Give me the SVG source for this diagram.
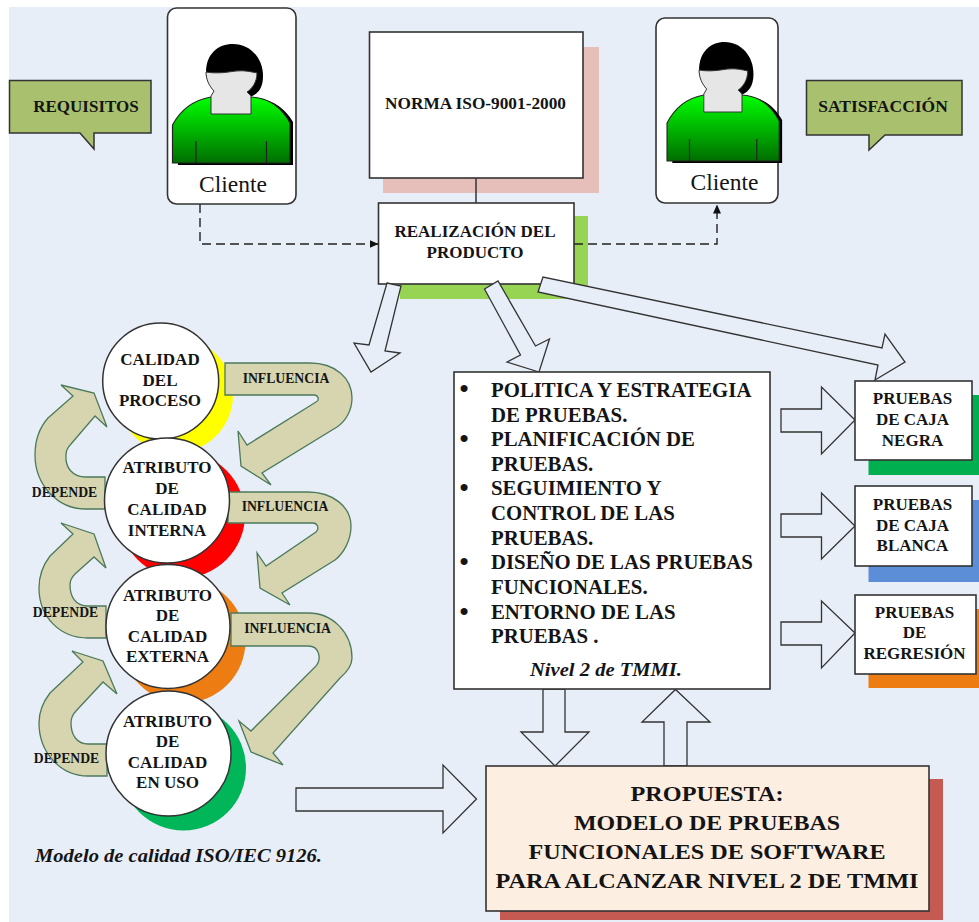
<svg xmlns="http://www.w3.org/2000/svg" xmlns:xlink="http://www.w3.org/1999/xlink" width="979" height="922" viewBox="0 0 979 922">
<style>
text{font-family:"Liberation Serif","Times New Roman",serif;font-weight:bold;fill:#141414;text-anchor:middle}
.box{fill:#fff;stroke:#333;stroke-width:1.6}
.ba{fill:#e8eef7;stroke:#333;stroke-width:1.3;stroke-linejoin:miter}
.ca{fill:#d6d5b0;stroke:#4c7a5c;stroke-width:1.3;stroke-linejoin:miter}
.call{fill:#a9c16f;stroke:#333;stroke-width:1.5}
.c{fill:#fff;stroke:#333;stroke-width:1.5}
.t17{font-size:17px}
.t14{font-size:13.7px}
.l{font-size:20.8px;text-anchor:start}
.p{font-size:22px}
.cl{font-size:23.5px;font-weight:normal}
.b{font-size:26px}
.dash{fill:none;stroke:#222;stroke-width:1.4;stroke-dasharray:9 5}
</style>
<defs>
<linearGradient id="g" x1="0" y1="0" x2="0" y2="1"><stop offset="0" stop-color="#00ff00"/><stop offset="1" stop-color="#006e00"/></linearGradient>
<marker id="ah" markerWidth="9" markerHeight="8" refX="8.5" refY="4" orient="auto" markerUnits="userSpaceOnUse"><path d="M0,0 L9,4 L0,8 Z" fill="#111"/></marker>
<g id="person">
<path d="M177.5,126 C187,109 198,101 216,98 H256 C275,100 286,110 293,122 V165 H178 V160 Z" fill="#000"/>
<path d="M206,72 C206,54 218,44 233,44 C250,44 263,58 263,76 C263,88 258,94 250,97 L214,90 C208,84 206,78 206,72 Z" fill="#000"/>
<path d="M172.500,125 C181,109 194,100 211,97 H251 C270,98 282,108 290,123 V163 H172.500 Z" fill="url(#g)" stroke="#222" stroke-width="1.200"/>
<path d="M206,72 C218,74 228,72 236,71 C245,70 252,72 257,73 C257,82 252,89 247,92 L251,96 V114 H211 V96 L214,91 C209,86 206,79 206,72 Z" fill="#e6e6e6" stroke="#333" stroke-width="1"/>
<path d="M196,141 V163 M266.500,141 V163" fill="none" stroke="#222" stroke-width="1.200"/>
</g>
</defs>
<rect width="979" height="922" fill="#fff"/>
<rect x="9" y="7" width="970" height="915" fill="#e8eef7"/>

<g id="requisitos"><path class="call" d="M9.500,80.500 H151 V133 H94 V149 L80,133 H9.500 Z"/><text class="t17" x="86" y="112">REQUISITOS</text></g>
<g id="cliente1"><rect class="box" x="167.500" y="8" width="128.500" height="196" rx="9"/><use xlink:href="#person" href="#person"/><text class="cl" x="233" y="192">Cliente</text></g>
<g id="norma"><rect x="383" y="47" width="216" height="146" fill="#e6bfba"/><rect class="box" x="369.500" y="32" width="213.500" height="146"/><text class="t17" x="475.500" y="109" style="font-size:17.300px">NORMA ISO-9001-2000</text></g>
<g id="cliente2"><rect class="box" x="656" y="18" width="122" height="185" rx="9"/><use xlink:href="#person" href="#person" transform="translate(502.300,-2) scale(.955,1) "/><text class="cl" x="724.500" y="190">Cliente</text></g>
<g id="satisfaccion"><path class="call" d="M806.500,80.500 H962 V135 H885 L869,150 V135 H806.500 Z"/><text class="t17" x="883" y="112" style="font-size:17.500px">SATISFACCIÓN</text></g>
<g id="realizacion"><rect x="400" y="216" width="188" height="83" fill="#98d454"/><rect class="box" x="378.500" y="203" width="195.500" height="81"/><text class="t17" x="475" y="237">REALIZACIÓN DEL</text><text class="t17" x="475" y="258">PRODUCTO</text></g>

<g id="connectors">
<path d="M476,178 V203" fill="none" stroke="#333" stroke-width="1.500"/>
<path class="dash" d="M200,204 V244 H378" marker-end="url(#ah)"/>
<path class="dash" d="M574,244 H717 V205" marker-end="url(#ah)"/>
<polygon class="ba" points="387,283 401,286 385,351 400,353 371,372 354,343 369,345"/>
<polygon class="ba" points="484.500,289 498,281 535.500,346 549.500,339 539,372 507,362 520.500,355"/>
<polygon class="ba" points="543,277 538,292 878,365 875,380 905,362 885,334 882,348"/>
<polygon class="ba" points="781,409 821.500,409 821.500,387 855,420 821.500,454 821.500,432 781,432"/>
<polygon class="ba" points="781,514 821.500,514 821.500,493 855,526 821.500,559 821.500,537 781,537"/>
<polygon class="ba" points="781,622 821.500,622 821.500,601 855,633 821.500,668 821.500,645 781,645"/>
<polygon class="ba" points="543,689 565,689 565,732 589,732 555,766 521,732 543,732"/>
<polygon class="ba" points="664,766 687,766 687,722 710,722 675.500,689.500 642,722 664,722"/>
<polygon class="ba" points="296,788 443,788 443,765 476.500,799 443,833 443,811 296,811"/>
</g>

<g id="sombras-calidad"><circle cx="175" cy="395" r="58" fill="#ffff00"/><circle cx="182" cy="515" r="63" fill="#ff0000"/><circle cx="183.500" cy="641" r="62" fill="#ed7d13"/><circle cx="183.500" cy="768" r="62.500" fill="#00b658"/></g>

<g id="flechas-calidad">
<path class="ca" d="M225,363 H310 C335,363 352,378 352,398 C352,410 346,421 337,427 L262,473 L271,485 L241,466 L238,431 L247,445 L316,402 C320,400 318,395 314,395 H225 Z"/>
<path class="ca" d="M228,492 H308 C333,492 351,507 351,526 C351,540 344,553 335,560 L282,593 L290,605 L260,588 L257,553 L266,566 L316,532 C320,528 317,523 313,523 H228 Z"/>
<path class="ca" d="M231,613 H308 C333,613 352,633 352,658 C352,665 347,672 340,678 L273,753 L283,765 L251,752 L239,721 L251,731 L315,667 C322,660 320,646 308,646 H231 Z"/>
<path class="ca" d="M105,477 H86 C72,477 65,467 66,455 C66,450 68,447 71,444 L95,416 L107,427 L94,393 L61,385 L73,396 L48,418 C40,427 35,440 35,455 C35,485 58,509 85,509 H105 Z"/>
<path class="ca" d="M106,606 H88 C75,606 70,596 70,585 C70,580 72,577 75,574 L94,557 L106,568 L94,534 L61,523 L73,534 L50,556 C43,565 39,575 39,588 C39,617 60,638 88,638 H106 Z"/>
<path class="ca" d="M107,744 H88 C77,744 71,735 71,723 C71,718 73,714 76,711 L103,682 L117,694 L103,661 L72,651 L83,662 L50,693 C43,702 39,712 39,723 C39,752 60,776 88,776 H107 Z"/>
<text class="t14" x="286" y="382.500">INFLUENCIA</text>
<text class="t14" x="285" y="511">INFLUENCIA</text>
<text class="t14" x="287.500" y="632.500">INFLUENCIA</text>
<text class="t14" x="64.500" y="497">DEPENDE</text>
<text class="t14" x="65.500" y="617">DEPENDE</text>
<text class="t14" x="66.500" y="763">DEPENDE</text>
</g>

<g id="calidad-proceso"><circle class="c" cx="160.700" cy="381" r="58"/><text class="t17" x="160" y="365">CALIDAD</text><text class="t17" x="160" y="386">DEL</text><text class="t17" x="160" y="406">PROCESO</text></g>
<g id="calidad-interna"><circle class="c" cx="167" cy="500.500" r="62.500"/><text class="t17" x="167" y="473">ATRIBUTO</text><text class="t17" x="167" y="494">DE</text><text class="t17" x="167" y="515">CALIDAD</text><text class="t17" x="167" y="536">INTERNA</text></g>
<g id="calidad-externa"><circle class="c" cx="168" cy="626.500" r="62"/><text class="t17" x="167.500" y="600.500">ATRIBUTO</text><text class="t17" x="167.500" y="621">DE</text><text class="t17" x="167.500" y="641.500">CALIDAD</text><text class="t17" x="167.500" y="662">EXTERNA</text></g>
<g id="calidad-uso"><circle class="c" cx="168.500" cy="753.500" r="62.500"/><text class="t17" x="167.500" y="726.500">ATRIBUTO</text><text class="t17" x="167.500" y="747">DE</text><text class="t17" x="167.500" y="767.500">CALIDAD</text><text class="t17" x="167.500" y="788">EN USO</text></g>
<text x="178.500" y="862" font-size="19" font-style="italic" textLength="287" lengthAdjust="spacingAndGlyphs">Modelo de calidad ISO/IEC 9126.</text>

<g id="nivel2"><rect class="box" x="454" y="372" width="316" height="317"/>
<text class="b" x="464" y="397">•</text><text class="b" x="464" y="446.500">•</text><text class="b" x="464" y="495.500">•</text><text class="b" x="464" y="570">•</text><text class="b" x="464" y="619.500">•</text>
<text class="l" x="491" y="397">POLITICA Y ESTRATEGIA</text>
<text class="l" x="491" y="421.500">DE PRUEBAS.</text>
<text class="l" x="491" y="446">PLANIFICACIÓN DE</text>
<text class="l" x="491" y="471">PRUEBAS.</text>
<text class="l" x="491" y="495">SEGUIMIENTO Y</text>
<text class="l" x="491" y="520">CONTROL DE LAS</text>
<text class="l" x="491" y="544.500">PRUEBAS.</text>
<text class="l" x="491" y="569">DISEÑO DE LAS PRUEBAS</text>
<text class="l" x="491" y="594">FUNCIONALES.</text>
<text class="l" x="491" y="619">ENTORNO DE LAS</text>
<text class="l" x="491" y="643">PRUEBAS .</text>
<text x="606" y="676" font-size="19" font-style="italic" textLength="152" lengthAdjust="spacingAndGlyphs">Nivel 2 de TMMI.</text>
</g>
<g id="caja-negra"><rect x="868.500" y="395" width="110.500" height="80" fill="#00b050"/><rect class="box" x="855" y="381" width="117" height="79"/><text class="t17" x="912.500" y="404">PRUEBAS</text><text class="t17" x="912.500" y="425">DE CAJA</text><text class="t17" x="912.500" y="446">NEGRA</text></g>
<g id="caja-blanca"><rect x="868.500" y="500" width="110.500" height="82" fill="#5b8ed6"/><rect class="box" x="855" y="486" width="117" height="80"/><text class="t17" x="912.500" y="510">PRUEBAS</text><text class="t17" x="912.500" y="531">DE CAJA</text><text class="t17" x="912.500" y="551">BLANCA</text></g>
<g id="regresion"><rect x="868.500" y="609" width="110.500" height="79" fill="#ed7d13"/><rect class="box" x="855" y="595" width="121" height="79"/><text class="t17" x="914.500" y="618">PRUEBAS</text><text class="t17" x="914.500" y="638">DE</text><text class="t17" x="914.500" y="659">REGRESIÓN</text></g>
<g id="propuesta"><rect x="500" y="779" width="443" height="141" fill="#c55a52"/><rect x="486" y="766" width="443" height="145" fill="#fdeee2" stroke="#333" stroke-width="1.600"/><text class="p" x="707" y="801" textLength="153" lengthAdjust="spacingAndGlyphs">PROPUESTA:</text><text class="p" x="707" y="830" textLength="266" lengthAdjust="spacingAndGlyphs">MODELO DE PRUEBAS</text><text class="p" x="707" y="859" textLength="357" lengthAdjust="spacingAndGlyphs">FUNCIONALES DE SOFTWARE</text><text class="p" x="707" y="888" textLength="423" lengthAdjust="spacingAndGlyphs">PARA ALCANZAR NIVEL 2 DE TMMI</text></g>
</svg>
